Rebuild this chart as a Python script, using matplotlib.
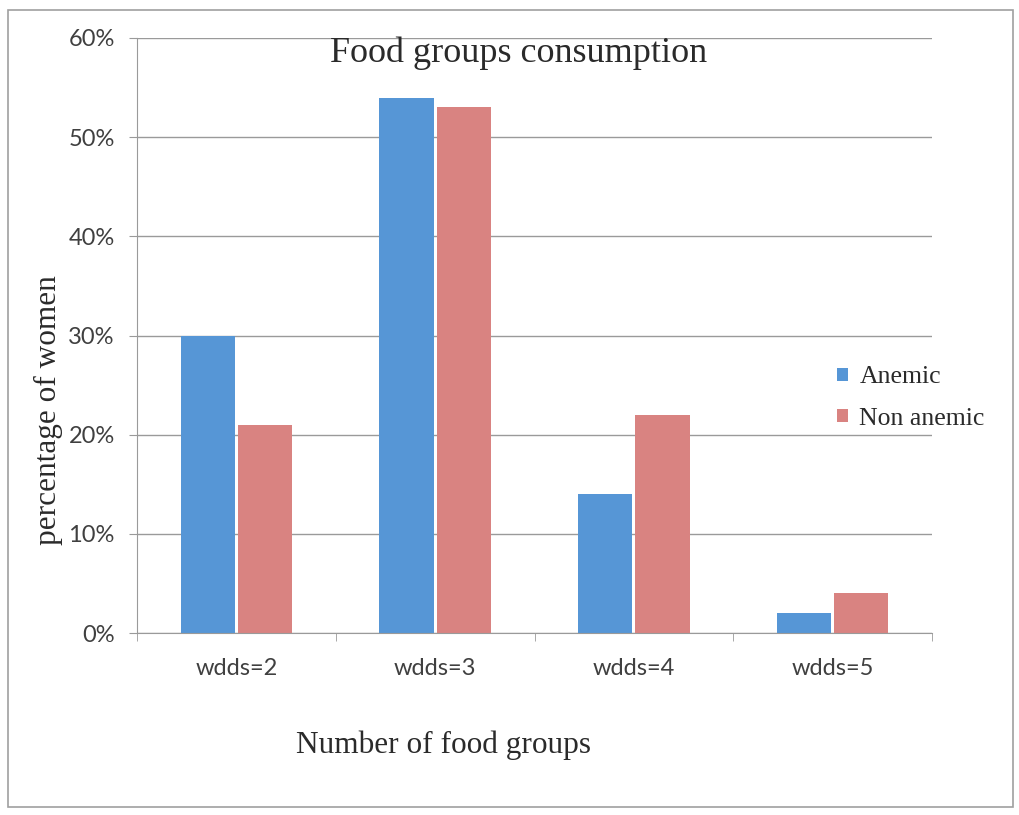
import matplotlib.pyplot as plt
import matplotlib.patches as mpatches
import numpy as np

categories = ["wdds=2", "wdds=3", "wdds=4", "wdds=5"]
anemic = [30, 54, 14, 2]
non_anemic = [21, 53, 22, 4]
y_ticks = [0, 10, 20, 30, 40, 50, 60]

blue = "#5696d6"
red = "#d98381"
grid_c = "#9a9a9a"
serif = ["Liberation Serif", "DejaVu Serif"]
sans = ["Lato", "DejaVu Sans"]

fig = plt.figure(figsize=(10.19, 8.15), dpi=100)
ax = fig.add_axes([137 / 1019, 1 - 633 / 815, 795 / 1019, 595 / 815])

x = np.arange(len(categories))
w = 0.272
ax.bar(x - w / 2 - 0.008, anemic, w, color=blue, label="Anemic")
ax.bar(x + w / 2 + 0.008, non_anemic, w, color=red, label="Non anemic")

ax.set_xlim(-0.5, len(categories) - 0.5)
ax.set_ylim(0, 60)
ax.set_yticks(y_ticks)
ax.set_yticklabels([f"{v}%" for v in y_ticks], fontsize=17, family=sans, color="#404040")
ax.yaxis.grid(True, color=grid_c, linewidth=1)
ax.set_axisbelow(True)

# category labels sit under the groups, tick marks on the boundaries
ax.set_xticks(x)
ax.set_xticklabels(categories, fontsize=17, family=sans, color="#404040")
ax.tick_params(axis="x", length=0, pad=18)
ax.set_xticks(np.arange(-0.5, len(categories)), minor=True)
ax.tick_params(axis="x", which="minor", length=6, color=grid_c, direction="out")
ax.tick_params(axis="y", length=6, color=grid_c, pad=10)

for side in ["top", "right"]:
    ax.spines[side].set_visible(False)
for side in ["left", "bottom"]:
    ax.spines[side].set_color(grid_c)

ax.text(0.48, 0.975, "Food groups consumption", transform=ax.transAxes,
        ha="center", va="center", fontsize=26, family=serif, color="#2a2a2a")
fig.text(48 / 1019, 1 - 410 / 815, "percentage of women", rotation=90,
         ha="center", va="center", fontsize=22.5, family=serif, color="#2a2a2a")
fig.text(443 / 1019, 1 - 745 / 815, "Number of food groups",
         ha="center", va="center", fontsize=22.5, family=serif, color="#2a2a2a")

ax.legend(loc="center left", bbox_to_anchor=(0.852, 0.395), frameon=False,
          handlelength=0.4, handleheight=0.4, handletextpad=0.45,
          labelspacing=0.75, prop={"family": serif, "size": 18.5},
          labelcolor="#2a2a2a")

# outer frame around the whole chart
fig.patches.append(mpatches.Rectangle((8 / 1019, 8 / 815), 1005 / 1019, 797 / 815,
                                      transform=fig.transFigure, fill=False,
                                      edgecolor="#a0a0a0", linewidth=1.2))

fig.savefig("out.png", dpi=100)
